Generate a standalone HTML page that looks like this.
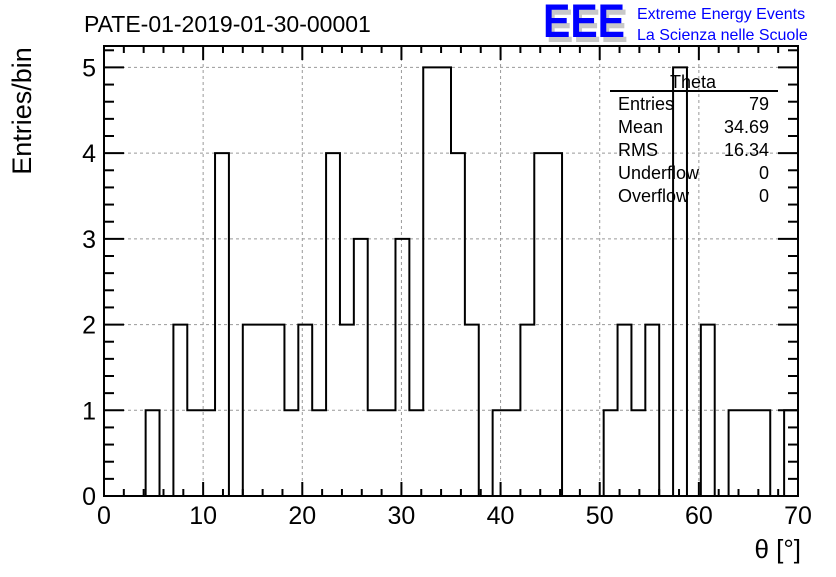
<!DOCTYPE html>
<html><head><meta charset="utf-8"><style>
body{margin:0;background:#fff;}
svg text{font-family:"Liberation Sans",sans-serif;}
</style></head><body>
<svg width="836" height="572" xmlns="http://www.w3.org/2000/svg">
<rect width="836" height="572" fill="#fff"/>
<text x="84" y="32" font-size="23">PATE-01-2019-01-30-00001</text>
<g>
<text x="546" y="42" font-size="47" font-weight="bold" fill="#c8c8c8" textLength="82" lengthAdjust="spacingAndGlyphs">EEE</text>
<text x="543" y="37" font-size="47" font-weight="bold" fill="#0000ff" textLength="82" lengthAdjust="spacingAndGlyphs">EEE</text>
<text x="637" y="19" font-size="16" fill="#0000ff">Extreme Energy Events</text>
<text x="637" y="40" font-size="16" fill="#0000ff">La Scienza nelle Scuole</text>
</g>
<g id="grid"></g>
<path id="hist" fill="none" stroke="#000" stroke-width="2"/>
<g id="axes"></g>
<rect x="104" y="46" width="694" height="450" fill="none" stroke="#000" stroke-width="2"/>
<text x="31" y="111" font-size="27" transform="rotate(-90 31 111)" text-anchor="middle">Entries/bin</text>
<text x="801" y="558" font-size="26" text-anchor="end">θ [°]</text>
<g font-size="18">
<text x="693" y="88" text-anchor="middle">Theta</text>
<line x1="610" y1="91" x2="778" y2="91" stroke="#000" stroke-width="2"/>
<text x="618" y="110">Entries</text><text x="769" y="110" text-anchor="end">79</text>
<text x="618" y="133">Mean</text><text x="769" y="133" text-anchor="end">34.69</text>
<text x="618" y="156">RMS</text><text x="769" y="156" text-anchor="end">16.34</text>
<text x="618" y="179">Underflow</text><text x="769" y="179" text-anchor="end">0</text>
<text x="618" y="202">Overflow</text><text x="769" y="202" text-anchor="end">0</text>
</g>
</svg>
<script>
const binCounts = [0,0,0,1,0,2,1,1,4,0,2,2,2,1,2,1,4,2,3,1,1,3,1,5,5,4,2,0,1,1,2,4,4,0,0,0,1,2,1,2,0,5,0,2,0,1,1,1,0,1];
const binWidth = 1.4;
const xTicks = [0,10,20,30,40,50,60,70];
const yTicks = [0,1,2,3,4,5];
const X0=104,X1=798,Y0=496,Y1=46,xMax=70,yMax=5.25;
const sx=v=>X0+(v/xMax)*(X1-X0);
const sy=v=>Y0-(v/yMax)*(Y0-Y1);
const NS="http://www.w3.org/2000/svg";
const grid=document.getElementById('grid'),axes=document.getElementById('axes');
function ln(p,x1,y1,x2,y2,st,w,d){const l=document.createElementNS(NS,'line');l.setAttribute('x1',x1);l.setAttribute('y1',y1);l.setAttribute('x2',x2);l.setAttribute('y2',y2);l.setAttribute('stroke',st);l.setAttribute('stroke-width',w);if(d)l.setAttribute('stroke-dasharray',d);p.appendChild(l);return l;}
function tx(p,x,y,s,a){const t=document.createElementNS(NS,'text');t.setAttribute('x',x);t.setAttribute('y',y);t.setAttribute('font-size',25);t.setAttribute('text-anchor',a);t.textContent=s;p.appendChild(t);return t;}
xTicks.forEach(v=>{const x=sx(v);
 if(v>0&&v<xMax){const g=ln(grid,x,Y1,x,Y0,'#999',1,'3,3');
 
 }
 ln(axes,x,Y0,x,Y0-14,'#000',2);ln(axes,x,Y1,x,Y1+14,'#000',2);
 const t=tx(axes,x,524,String(v),'middle');
 
 });
for(let v=0;v<=xMax;v+=2){if(v%10){const x=sx(v);ln(axes,x,Y0,x,Y0-7,'#000',2);ln(axes,x,Y1,x,Y1+7,'#000',2);}}
yTicks.forEach(v=>{const y=sy(v);
 if(v>0){const g=ln(grid,X0,y,X1,y,'#999',1,'3,3');
 
 }
 ln(axes,X0,y,X0+20,y,'#000',2);ln(axes,X1,y,X1-20,y,'#000',2);
 const t=tx(axes,96,y+9,String(v),'end');
 
 });
for(let v=0.2;v<yMax;v+=0.2){if(Math.abs(v-Math.round(v))>0.01){const y=sy(v);ln(axes,X0,y,X0+10,y,'#000',2);ln(axes,X1,y,X1-10,y,'#000',2);}}
let d='M'+sx(0)+','+sy(0);
binCounts.forEach((c,i)=>{d+=' L'+sx(i*binWidth)+','+sy(c)+' L'+sx((i+1)*binWidth)+','+sy(c);});
d+=' L'+sx(binCounts.length*binWidth)+','+sy(0);
document.getElementById('hist').setAttribute('d',d);
</script>
</body></html>
